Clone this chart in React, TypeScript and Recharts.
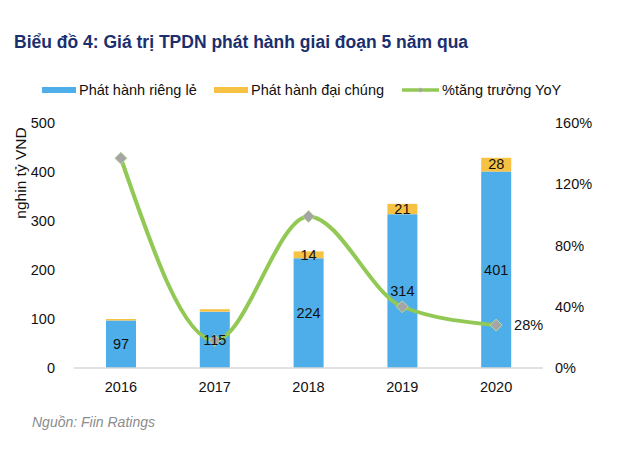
import React from 'react';
import { ComposedChart, Bar, Line, XAxis, YAxis, LabelList } from 'recharts';

const years = ['2016', '2017', '2018', '2019', '2020'];
const privateIssue = [97, 115, 224, 314, 401];
const publicIssue = [3, 5, 14, 21, 28];
const growthYoY = [137, 18, 99, 40, 28];
const leftTicks = [0, 100, 200, 300, 400, 500];
const rightTicks = [0, 40, 80, 120, 160];

const data = years.map((y, i) => ({
  year: y,
  priv: privateIssue[i],
  pub: publicIssue[i],
  growth: growthYoY[i],
}));

const FONT = '"Liberation Sans", Arial, sans-serif';
const FS = 14.5;
const BLUE = '#4DAEEA';
const YELLOW = '#F7C244';
const GREEN = '#92C854';
const GRAY = '#A5A5A5';

const Diamond = (props: any) => {
  const { cx, cy, index } = props;
  if (cx == null || cy == null) return null;
  const r = 6;
  return (
    <polygon
      key={`d-${index}`}
      points={`${cx},${cy - r} ${cx + r},${cy} ${cx},${cy + r} ${cx - r},${cy}`}
      fill={GRAY}
      stroke="#B8D99A"
      strokeWidth={1}
    />
  );
};

const PubLabel = (props: any) => {
  const { x, y, width, height, value } = props;
  if (value < 10) return null;
  return (
    <text x={x + width / 2} y={y + height / 2 + 1} textAnchor="middle" dominantBaseline="middle"
      fontSize={FS} fontFamily={FONT} fill="#111">
      {value}
    </text>
  );
};

const GrowthLabel = (props: any) => {
  const { x, y, value, index } = props;
  if (index !== years.length - 1) return null;
  return (
    <text x={x + 18} y={y + 1} textAnchor="start" dominantBaseline="middle"
      fontSize={FS} fontFamily={FONT} fill="#111">
      {`${value}%`}
    </text>
  );
};

const legendItems = [
  { label: 'Phát hành riêng lẻ', color: BLUE, type: 'rect', left: 42 },
  { label: 'Phát hành đại chúng', color: YELLOW, type: 'rect', left: 214 },
  { label: '%tăng trưởng YoY', color: GREEN, type: 'line', left: 402 },
];

export default function App() {
  return (
    <div style={{ position: 'absolute', left: 0, top: 0, width: 630, height: 453, background: '#fff', fontFamily: FONT }}>
      <div style={{ position: 'absolute', left: 14, top: 32, fontSize: 17.5, fontWeight: 'bold', color: '#1B2F6E', whiteSpace: 'nowrap' }}>
        Biểu đồ 4: Giá trị TPDN phát hành giai đoạn 5 năm qua
      </div>
      {legendItems.map((it, i) => (
        <div key={i} style={{ position: 'absolute', left: it.left, top: 81, height: 18, display: 'flex', alignItems: 'center', fontSize: FS, color: '#111', whiteSpace: 'nowrap' }}>
          {it.type === 'rect' ? (
            <div style={{ width: 34, height: 6, background: it.color, marginRight: 3 }} />
          ) : (
            <svg width={37} height={8} style={{ marginRight: 3 }}>
              <line x1={0} y1={4} x2={37} y2={4} stroke={it.color} strokeWidth={3.5} />
              <polygon points="18.5,1.5 21,4 18.5,6.5 16,4" fill={GRAY} />
            </svg>
          )}
          <span>{it.label}</span>
        </div>
      ))}
      <ComposedChart width={630} height={453} data={data}
        margin={{ top: 123, right: 0, bottom: 55, left: 0 }}>
        <XAxis dataKey="year" tickLine={false} axisLine={{ stroke: '#D9D9D9', strokeWidth: 1.5 }}
          tick={{ fontSize: FS, fill: '#111', fontFamily: FONT }} tickMargin={8} height={30} />
        <YAxis yAxisId="left" domain={[0, 500]} ticks={leftTicks} width={74} axisLine={false} tickLine={false}
          tick={{ fontSize: FS, fill: '#111', fontFamily: FONT }} tickMargin={13}
          label={() => (
            <text x={22} y={173} transform="rotate(-90 22 173)" textAnchor="middle" dominantBaseline="middle"
              fontSize={15.5} fontFamily={FONT} fill="#111">nghin tỷ VND</text>
          )} />
        <YAxis yAxisId="right" orientation="right" domain={[0, 160]} ticks={rightTicks} width={87}
          axisLine={false} tickLine={false} tickFormatter={(v: number) => `${v}%`}
          tick={{ fontSize: FS, fill: '#111', fontFamily: FONT, textAnchor: 'start' }} tickMargin={6} />
        <Bar yAxisId="left" dataKey="priv" name="Phát hành riêng lẻ" stackId="a" fill={BLUE} barSize={30} isAnimationActive={false}>
          <LabelList dataKey="priv" position="center" style={{ fontSize: FS, fill: '#111', fontFamily: FONT }} />
        </Bar>
        <Bar yAxisId="left" dataKey="pub" name="Phát hành đại chúng" stackId="a" fill={YELLOW} barSize={30} isAnimationActive={false}>
          <LabelList dataKey="pub" content={<PubLabel />} />
        </Bar>
        <Line yAxisId="right" dataKey="growth" name="%tăng trưởng YoY" type="monotone" stroke={GREEN} strokeWidth={4}
          dot={<Diamond />} activeDot={false} isAnimationActive={false}>
          <LabelList dataKey="growth" content={<GrowthLabel />} />
        </Line>
      </ComposedChart>
      <div style={{ position: 'absolute', left: 32, top: 414, fontSize: 14, fontStyle: 'italic', color: '#8C8C8C', whiteSpace: 'nowrap' }}>
        Nguồn: Fiin Ratings
      </div>
    </div>
  );
}
